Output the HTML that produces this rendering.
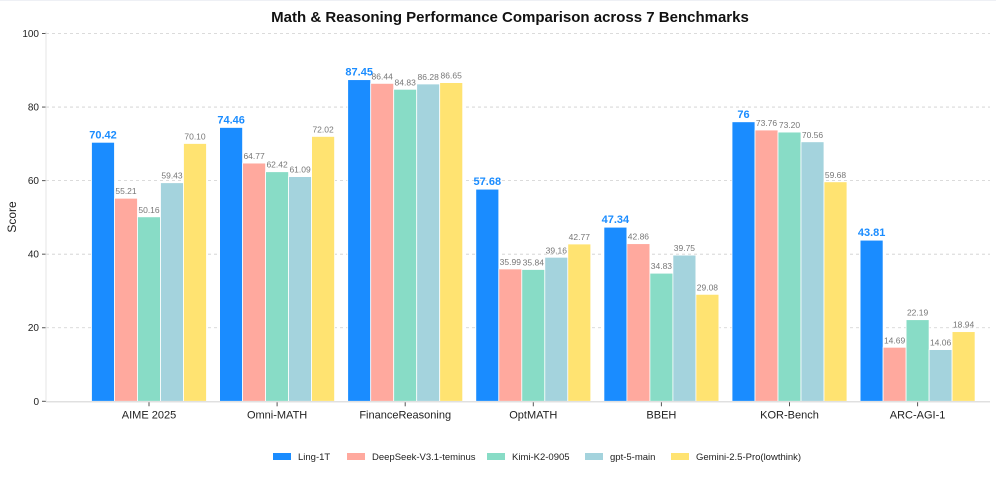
<!DOCTYPE html>
<html><head><meta charset="utf-8"><style>
body{margin:0;background:#fff;font-family:"Liberation Sans",Arial,sans-serif}
svg text{font-family:"Liberation Sans",Arial,sans-serif}
</style></head><body>
<svg id="c" width="996" height="472" viewBox="0 0 996 472" xmlns="http://www.w3.org/2000/svg">
<rect x="0" y="0" width="996" height="472" fill="#fff"/>
<line x1="0" y1="0.5" x2="996" y2="0.5" stroke="#eef0f5"/>
<text x="510" y="22" text-anchor="middle" font-size="15" font-weight="bold" fill="#111">Math &amp; Reasoning Performance Comparison across 7 Benchmarks</text>
<text transform="translate(16,217) rotate(-90)" text-anchor="middle" font-size="12" fill="#222">Score</text>
<g id="grid"></g><g id="bars"></g><g id="axes"></g><g id="legend"></g>
</svg>
<script>
const categories=["AIME 2025","Omni-MATH","FinanceReasoning","OptMATH","BBEH","KOR-Bench","ARC-AGI-1"];
const seriesNames=["Ling-1T","DeepSeek-V3.1-teminus","Kimi-K2-0905","gpt-5-main","Gemini-2.5-Pro(lowthink)"];
const ling=[70.42,74.46,87.45,57.68,47.34,76,43.81];
const deepseek=[55.21,64.77,86.44,35.99,42.86,73.76,14.69];
const kimi=[50.16,62.42,84.83,35.84,34.83,73.20,22.19];
const gpt=[59.43,61.09,86.28,39.16,39.75,70.56,14.06];
const gemini=[70.10,72.02,86.65,42.77,29.08,59.68,18.94];
const ling_labels=["70.42","74.46","87.45","57.68","47.34","76","43.81"];
const yTicks=[0,20,40,60,80,100];
const series=[ling,deepseek,kimi,gpt,gemini];
const colors=["#1a8cff","#ffa99e","#88dcc6","#a4d3dd","#ffe371"];
const NS="http://www.w3.org/2000/svg";
const X0=46,X1=990,Y0=401.3,Y100=33.5;
const y=v=>Y0-(v/100)*(Y0-Y100);
const step=128.1,first=149,bw=23;
const xc=i=>first+i*step;
function mk(tag,attrs,parent,txt){const e=document.createElementNS(NS,tag);for(const k in attrs)e.setAttribute(k,attrs[k]);if(txt!=null)e.textContent=txt;parent.appendChild(e);return e;}
const grid=document.getElementById('grid'),bars=document.getElementById('bars'),axes=document.getElementById('axes'),legend=document.getElementById('legend');
yTicks.forEach(t=>{
 if(t>0){const g=mk('line',{x1:X0,x2:X1,y1:y(t),y2:y(t),stroke:'#cfcfcf','stroke-dasharray':'3,3','stroke-width':0.8},grid);
 
 }
 const tk=mk('line',{x1:X0-4,x2:X0,y1:y(t),y2:y(t),stroke:'#555'},axes);
 
 
 const tl=mk('text',{x:X0-7,y:y(t)+3.5,'text-anchor':'end','font-size':10,fill:'#222'},axes,String(t));
 
 
});
const sp=mk('line',{x1:X0,x2:X0,y1:Y100-2,y2:Y0,stroke:'#e6e6e6'},axes);


const bx=mk('line',{x1:X0,x2:X1,y1:Y0+0.5,y2:Y0+0.5,stroke:'#e0e0e0','stroke-width':1.5},axes);


categories.forEach((c,i)=>{
 series.forEach((s,j)=>{
  const x=xc(i)-2.5*bw+j*bw,v=s[i];
  const r=mk('rect',{x:x,y:y(v),width:bw,height:Y0-y(v),fill:colors[j],stroke:'#fff','stroke-width':0.8},bars);
  
  
  let t;
  if(j===0){t=mk('text',{x:x+bw/2,y:y(v)-4,'text-anchor':'middle','font-size':11,'font-weight':'bold',fill:'#1a8cff'},bars,ling_labels[i]);}
  else{t=mk('text',{x:x+bw/2,y:y(v)-4,'text-anchor':'middle','font-size':8.5,fill:'#777'},bars,v.toFixed(2));}
  
  
 });
 const tk=mk('line',{x1:xc(i),x2:xc(i),y1:Y0+1,y2:Y0+5,stroke:'#555'},axes);
 
 
 const tl=mk('text',{x:xc(i),y:Y0+17,'text-anchor':'middle','font-size':11,fill:'#222'},axes,c);
 
 
});
const lx=[273,347,487,585,671];
seriesNames.forEach((n,j)=>{
 const g=mk('g',{},legend);
 
 
 mk('rect',{x:lx[j],y:453,width:18,height:7,fill:colors[j]},g);
 mk('text',{x:lx[j]+25,y:460,'font-size':9.5,fill:'#222'},g,n);
});
</script>
</body></html>
